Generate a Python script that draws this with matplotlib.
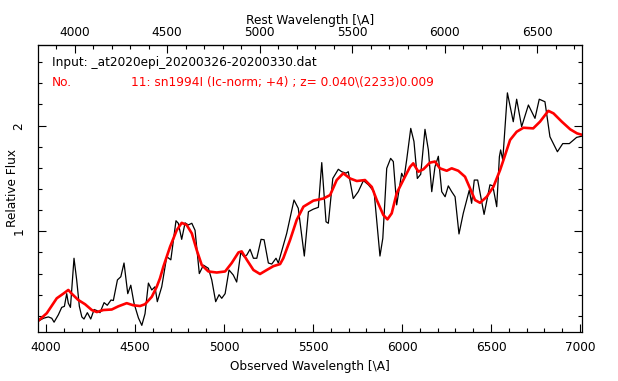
import matplotlib
matplotlib.use("Agg")
import matplotlib.pyplot as plt
from matplotlib.ticker import MultipleLocator

# Observed spectrum (black)
obs_wave = [3951, 3985, 4013, 4032, 4045, 4069, 4088, 4103, 4116, 4125, 4137, 4157,
            4172, 4187, 4201, 4213, 4232, 4251, 4270, 4285, 4303, 4326, 4344, 4365,
            4378, 4401, 4420, 4438, 4459, 4476, 4494, 4519, 4538, 4556, 4575, 4594,
            4612, 4625, 4650, 4678, 4701, 4730, 4743, 4762, 4781, 4799, 4819, 4837,
            4861, 4884, 4912, 4931, 4953, 4972, 4987, 5006, 5028, 5052, 5071, 5094,
            5112, 5128, 5146, 5165, 5184, 5208, 5225, 5249, 5268, 5292, 5305, 5315,
            5352, 5393, 5417, 5451, 5474, 5502, 5530, 5549, 5573, 5586, 5611, 5642,
            5661, 5685, 5698, 5726, 5754, 5783, 5811, 5843, 5876, 5892, 5914, 5936,
            5951, 5970, 5998, 6011, 6026, 6049, 6067, 6086, 6105, 6129, 6148, 6167,
            6185, 6204, 6223, 6242, 6260, 6279, 6298, 6320, 6344, 6378, 6391, 6406,
            6425, 6461, 6494, 6510, 6532, 6547, 6554, 6566, 6592, 6625, 6644, 6672,
            6710, 6747, 6771, 6803, 6831, 6873, 6903, 6940, 6981, 7010]
obs_flux = [0.145, 0.177, 0.19, 0.177, 0.14, 0.21, 0.28, 0.29, 0.41, 0.32, 0.28, 0.745,
            0.54, 0.29, 0.19, 0.17, 0.23, 0.17, 0.26, 0.25, 0.23, 0.325, 0.30, 0.35,
            0.345, 0.54, 0.57, 0.70, 0.41, 0.49, 0.32, 0.18, 0.11, 0.22, 0.51, 0.445,
            0.475, 0.334, 0.476, 0.76, 0.73, 1.10, 1.076, 0.924, 1.08, 1.06, 1.076, 1.01,
            0.60, 0.68, 0.65, 0.54, 0.334, 0.40, 0.366, 0.41, 0.634, 0.586, 0.52, 0.80,
            0.76, 0.776, 0.83, 0.745, 0.745, 0.924, 0.92, 0.70, 0.69, 0.745, 0.70, 0.76,
            0.98, 1.296, 1.218, 0.766, 1.185, 1.21, 1.227, 1.65, 1.09, 1.076, 1.50, 1.587,
            1.564, 1.55, 1.564, 1.31, 1.375, 1.48, 1.44, 1.375, 0.766, 0.934, 1.596, 1.69,
            1.66, 1.25, 1.549, 1.50, 1.675, 1.974, 1.85, 1.50, 1.54, 1.965, 1.77, 1.375,
            1.61, 1.71, 1.375, 1.327, 1.43, 1.375, 1.327, 0.975, 1.17, 1.39, 1.265, 1.485,
            1.485, 1.16, 1.44, 1.43, 1.233, 1.706, 1.77, 1.675, 2.31, 2.037, 2.25, 1.99,
            2.195, 2.069, 2.25, 2.226, 1.895, 1.753, 1.83, 1.83, 1.889, 1.90]

# Template sn1994I (red)
tpl_wave = [3951, 4004, 4060, 4097, 4125, 4144, 4181, 4219, 4257, 4285, 4322, 4369,
            4406, 4453, 4490, 4528, 4556, 4594, 4622, 4640, 4659, 4697, 4734, 4762,
            4790, 4819, 4847, 4875, 4912, 4959, 5006, 5043, 5081, 5099, 5128, 5165,
            5202, 5240, 5277, 5315, 5333, 5371, 5408, 5446, 5502, 5558, 5596, 5633,
            5670, 5708, 5746, 5792, 5830, 5858, 5895, 5918, 5942, 5970, 6007, 6045,
            6063, 6092, 6120, 6157, 6185, 6213, 6251, 6279, 6316, 6354, 6382, 6410,
            6438, 6476, 6513, 6551, 6570, 6607, 6644, 6682, 6737, 6775, 6822, 6851,
            6898, 6945, 6983, 7017]
tpl_flux = [0.145, 0.225, 0.366, 0.41, 0.445, 0.41, 0.35, 0.31, 0.255, 0.236, 0.255, 0.26,
            0.29, 0.32, 0.30, 0.293, 0.31, 0.38, 0.476, 0.555, 0.665, 0.855, 1.01, 1.08,
            1.06, 0.98, 0.82, 0.68, 0.62, 0.61, 0.62, 0.70, 0.80, 0.81, 0.73, 0.634,
            0.596, 0.634, 0.67, 0.69, 0.745, 0.918, 1.107, 1.233, 1.29, 1.31, 1.343, 1.485,
            1.549, 1.50, 1.476, 1.485, 1.42, 1.296, 1.154, 1.113, 1.17, 1.36, 1.485, 1.61,
            1.643, 1.564, 1.587, 1.65, 1.66, 1.596, 1.573, 1.596, 1.573, 1.516, 1.407, 1.296,
            1.27, 1.327, 1.42, 1.58, 1.675, 1.864, 1.942, 1.98, 1.974, 2.037, 2.14, 2.116,
            2.037, 1.965, 1.927, 1.91]

z = 0.040
x_ticks = [4000, 4500, 5000, 5500, 6000, 6500, 7000]
top_ticks = [4000, 4500, 5000, 5500, 6000, 6500]
y_ticks = [1, 2]

FS = 8.7
plt.rcParams['font.family'] = ['DejaVu Sans']
fig = plt.figure(figsize=(6.18, 3.81), dpi=100)
ax = fig.add_axes([0.061, 0.1294, 0.8807, 0.7525])

ax.plot(obs_wave, obs_flux, color='black', lw=0.9)
ax.plot(tpl_wave, tpl_flux, color='#ff0000', lw=1.9)

ax.set_xlim(3953, 7011)
ax.set_ylim(0.05, 2.763)

ax.set_xticks(x_ticks)
ax.xaxis.set_minor_locator(MultipleLocator(100))
ax.set_yticks(y_ticks)
ax.yaxis.set_minor_locator(MultipleLocator(0.2))
ax.tick_params(which='both', direction='in', top=False, right=True, labelsize=FS, width=0.8)
ax.tick_params(which='major', length=6)
ax.tick_params(which='minor', length=3)
ax.tick_params(axis='x', pad=7)
ax.tick_params(axis='y', labelrotation=90, pad=9)
for lbl in ax.get_yticklabels():
    lbl.set_va('center')

sec = ax.secondary_xaxis('top', functions=(lambda x: x / (1 + z), lambda x: x * (1 + z)))
sec.set_xticks(top_ticks)
sec.xaxis.set_minor_locator(MultipleLocator(100))
sec.tick_params(which='both', direction='in', labelsize=FS, width=0.8, pad=4)
sec.tick_params(which='major', length=6)
sec.tick_params(which='minor', length=3)
sec.set_xlabel('Rest Wavelength [\\A]', fontsize=FS, labelpad=2)

ax.set_xlabel('Observed Wavelength [\\A]', fontsize=FS, labelpad=4)
ax.set_ylabel('Relative Flux', fontsize=FS)
ax.yaxis.set_label_coords(-0.034, 0.5)

for s in list(ax.spines.values()):
    s.set_linewidth(0.9)

ax.text(0.026, 0.94, 'Input: _at2020epi_20200326-20200330.dat', transform=ax.transAxes,
        fontsize=FS, color='black', va='center', ha='left')
ax.text(0.026, 0.87, 'No.', transform=ax.transAxes,
        fontsize=FS, color='#ff0000', va='center', ha='left')
ax.text(0.171, 0.87, '11: sn1994I (Ic-norm; +4) ; z= 0.040\\(2233)0.009', transform=ax.transAxes,
        fontsize=FS, color='#ff0000', va='center', ha='left')

fig.savefig('out.png', dpi=100)
